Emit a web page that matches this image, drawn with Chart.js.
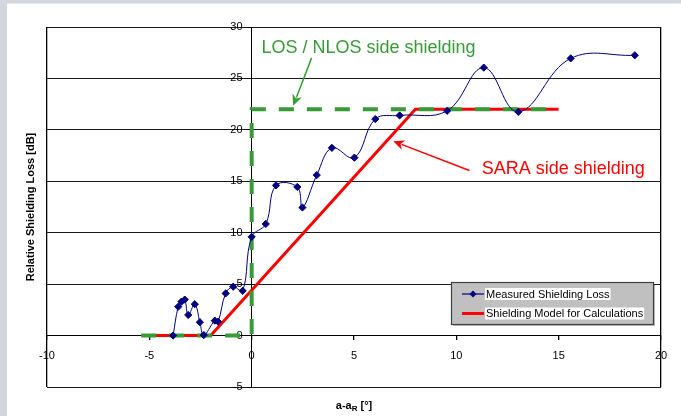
<!DOCTYPE html>
<html>
<head>
<meta charset="utf-8">
<title>Relative Shielding Loss</title>
<script src="https://cdn.jsdelivr.net/npm/chart.js@4.4.1/dist/chart.umd.min.js"></script>
<style>
  html,body{margin:0;padding:0;background:#fff;}
  canvas{display:block;}
</style>
</head>
<body>
<canvas id="c" width="681" height="416"></canvas>
<script>
// measured shielding loss (angle offset in deg, loss in dB)
const measX = [-3.84,-3.59,-3.43,-3.27,-3.10,-2.78,-2.53,-2.34,-1.80,-1.64,-1.27,-0.90,-0.44,0.0,0.69,1.19,2.23,2.48,3.18,3.92,5.02,6.04,7.23,9.55,11.34,13.03,15.59,18.72];
const measY = [0.0,2.8,3.3,3.5,2.0,3.05,1.3,0.05,1.45,1.35,4.1,4.75,4.35,9.6,10.85,14.6,14.45,12.45,15.6,18.25,17.3,21.05,21.4,21.85,26.05,21.75,26.95,27.25];
// shielding model for calculations
const modelX = [-5,-2,8,15];
const modelY = [0,0,22,22];
// LOS / NLOS side boundary (dashed green)
const losX = [-5.4,0,0,15];
const losY = [0,0,22,22];
// axes
const xTicks = [-10,-5,0,5,10,15,20];
const yTicks = [-5,0,5,10,15,20,25,30];

const FONT = "'Liberation Sans', Arial, sans-serif";
const GREEN = '#379b37';
const pts = (xs, ys) => xs.map((x,i)=>({x:x, y:ys[i]}));

function arrow(ctx, x1, y1, x2, y2, color){
  const a = Math.atan2(y2-y1, x2-x1), h = 11, w = 5;
  ctx.save();
  ctx.strokeStyle = color; ctx.fillStyle = color; ctx.lineWidth = 1.5;
  ctx.beginPath(); ctx.moveTo(x1,y1); ctx.lineTo(x2 - Math.cos(a)*h*0.8, y2 - Math.sin(a)*h*0.8); ctx.stroke();
  ctx.beginPath();
  ctx.moveTo(x2,y2);
  ctx.lineTo(x2 - Math.cos(a)*h + Math.sin(a)*w, y2 - Math.sin(a)*h - Math.cos(a)*w);
  ctx.lineTo(x2 - Math.cos(a)*h*0.7, y2 - Math.sin(a)*h*0.7);
  ctx.lineTo(x2 - Math.cos(a)*h - Math.sin(a)*w, y2 - Math.sin(a)*h + Math.cos(a)*w);
  ctx.closePath(); ctx.fill();
  ctx.restore();
}

function diamond(ctx, x, y, r, color){
  ctx.beginPath();
  ctx.moveTo(x, y-r); ctx.lineTo(x+r, y); ctx.lineTo(x, y+r); ctx.lineTo(x-r, y);
  ctx.closePath(); ctx.fillStyle = color; ctx.fill();
}

const backdrop = {
  id: 'backdrop',
  beforeDraw(chart){
    const ctx = chart.ctx;
    ctx.save();
    ctx.fillStyle = '#ffffff'; ctx.fillRect(0,0,chart.width,chart.height);
    ctx.fillStyle = '#d3d6de';
    ctx.fillRect(0,0,7,chart.height);
    ctx.fillRect(0,0,chart.width,3.5);
    ctx.restore();
  }
};

const extras = {
  id: 'extras',
  afterDraw(chart){
    const ctx = chart.ctx, ca = chart.chartArea;
    const sx = chart.scales.x, sy = chart.scales.y;
    const px = v => sx.getPixelForValue(v), py = v => sy.getPixelForValue(v);
    ctx.save();
    // annotations
    ctx.font = '18px ' + FONT; ctx.textBaseline = 'alphabetic'; ctx.textAlign = 'left';
    ctx.fillStyle = GREEN;
    ctx.fillText('LOS / NLOS side shielding', px(0.48), py(27.47));
    arrow(ctx, px(2.93), py(27.0), px(2.03), py(22.35), GREEN);
    ctx.fillStyle = '#ff0000';
    ctx.fillText('SARA side shielding', px(11.24), py(15.75));
    arrow(ctx, px(10.64), py(16.05), px(6.92), py(18.9), '#ff0000');

    // legend
    const lx = ca.right - 210, ly = ca.top + 255, lw = 202, lh = 42;
    ctx.fillStyle = 'rgba(0,0,0,0.25)'; ctx.fillRect(lx+2, ly+2, lw, lh);
    ctx.fillStyle = '#c0c0c0'; ctx.fillRect(lx, ly, lw, lh);
    ctx.strokeStyle = '#404040'; ctx.lineWidth = 1.2; ctx.strokeRect(lx+0.5, ly+0.5, lw, lh);
    ctx.font = '11px ' + FONT; ctx.textBaseline = 'middle';
    const ds = chart.data.datasets.filter(d => d.label);
    ds.forEach((d, i) => {
      const y = ly + 12 + i*19.5;
      ctx.strokeStyle = d.borderColor; ctx.lineWidth = d.legendWidth;
      ctx.beginPath(); ctx.moveTo(lx+11, y); ctx.lineTo(lx+33, y); ctx.stroke();
      if (d.pointRadius) diamond(ctx, lx+22, y, 3.5, d.borderColor);
      const tw = ctx.measureText(d.label).width;
      ctx.fillStyle = '#ffffff'; ctx.fillRect(lx+34, y-6, tw+2, 12);
      ctx.fillStyle = '#000000'; ctx.fillText(d.label, lx+35, y+0.5);
    });

    // axis titles
    ctx.fillStyle = '#000000'; ctx.textBaseline = 'middle';
    ctx.font = 'bold 11px ' + FONT;
    const cx = (ca.left + ca.right)/2, ty = 406;
    const w1 = ctx.measureText('a-a').width;
    ctx.font = 'bold 8px ' + FONT;
    const w2 = ctx.measureText('R').width;
    ctx.font = 'bold 11px ' + FONT;
    const w3 = ctx.measureText(' [°]').width;
    let x0 = cx - (w1+w2+w3)/2;
    ctx.textAlign = 'left';
    ctx.fillText('a-a', x0, ty);
    ctx.font = 'bold 8px ' + FONT; ctx.fillText('R', x0+w1, ty+3);
    ctx.font = 'bold 11px ' + FONT; ctx.fillText(' [°]', x0+w1+w2, ty);
    ctx.translate(31, (ca.top+ca.bottom)/2);
    ctx.rotate(-Math.PI/2);
    ctx.textAlign = 'center';
    ctx.fillText('Relative Shielding Loss [dB]', 0, 0);
    ctx.restore();
  }
};

new Chart(document.getElementById('c'), {
  type: 'scatter',
  data: {
    datasets: [
      { label:'Measured Shielding Loss', data: pts(measX, measY), showLine:true,
        borderColor:'#000080', backgroundColor:'#000080', borderWidth:1, legendWidth:1.2,
        pointStyle:'rectRot', pointRadius:3.6, pointHoverRadius:3.6, tension:0.4 },
      { data: pts(losX, losY), showLine:true, borderColor:GREEN, borderWidth:4,
        borderDash:[15,13], pointRadius:0, tension:0, borderCapStyle:'butt' },
      { label:'Shielding Model for Calculations', data: pts(modelX, modelY), showLine:true,
        borderColor:'#ff0000', backgroundColor:'#ff0000', borderWidth:3, legendWidth:3,
        pointRadius:0, tension:0 }
    ]
  },
  options: {
    responsive:false, animation:false, devicePixelRatio:1,
    layout:{ padding:{ left:47, top:27, right:20, bottom:29 } },
    plugins:{ legend:{display:false}, tooltip:{enabled:false} },
    scales:{
      x:{ type:'linear', position:{y:0}, min:xTicks[0], max:xTicks[xTicks.length-1],
        afterBuildTicks: s => { s.ticks = xTicks.map(v => ({value:v})); },
        grid:{ color: c => (c.tick && (c.tick.value === xTicks[0] || c.tick.value === xTicks[xTicks.length-1])) ? '#000' : 'rgba(0,0,0,0)',
               tickColor:'#000', tickLength:4, lineWidth:1.3 },
        border:{ color:'#000', width:1 },
        ticks:{ color:'#000', font:{family:FONT, size:11}, padding:10, autoSkip:false, maxRotation:0 } },
      y:{ type:'linear', position:{x:0}, min:yTicks[0], max:yTicks[yTicks.length-1],
        afterBuildTicks: s => { s.ticks = yTicks.map(v => ({value:v})); },
        grid:{ color:'#1a1a1a', tickColor:'#000', tickLength:4, lineWidth:1 },
        border:{ color:'#000', width:1 },
        // labels sit right against the crossing axis, so pad them with spaces
        ticks:{ color:'#000', font:{family:FONT, size:11}, padding:3,
          callback: v => v + '\u00a0\u00a0\u00a0' } }
    }
  },
  plugins:[backdrop, extras]
});
</script>
</body>
</html>
